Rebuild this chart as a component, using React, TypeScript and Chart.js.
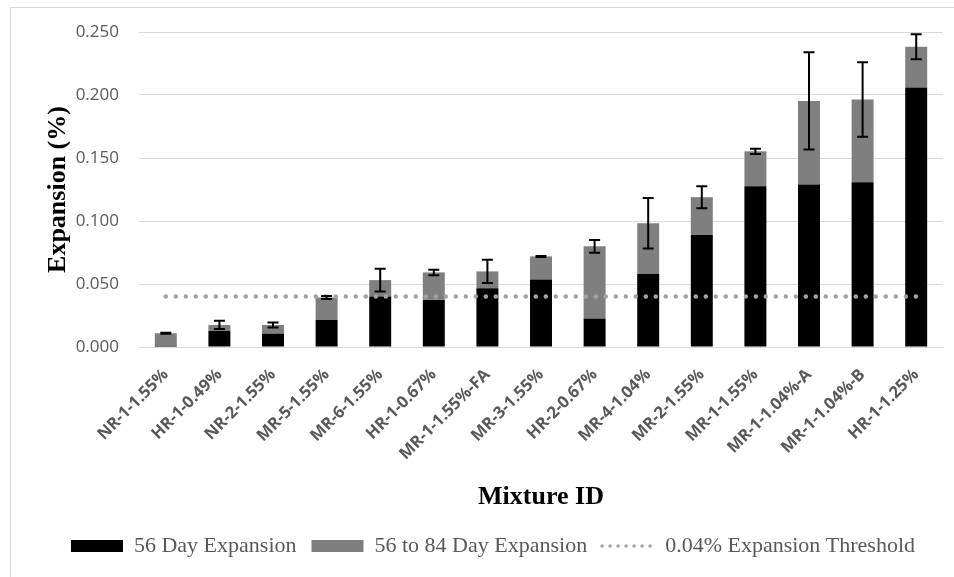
import { useEffect, useRef } from 'react';
import { Chart, registerables } from 'chart.js';

Chart.register(...registerables);

const categories = [
  'NR-1-1.55%', 'HR-1-0.49%', 'NR-2-1.55%', 'MR-5-1.55%', 'MR-6-1.55%',
  'HR-1-0.67%', 'MR-1-1.55%-FA', 'MR-3-1.55%', 'HR-2-0.67%', 'MR-4-1.04%',
  'MR-2-1.55%', 'MR-1-1.55%', 'MR-1-1.04%-A', 'MR-1-1.04%-B', 'HR-1-1.25%',
];

const day56 = [0.001, 0.0127, 0.0106, 0.0215, 0.04, 0.0374, 0.0467, 0.0536, 0.0225, 0.0579, 0.0889, 0.1276, 0.129, 0.1308, 0.206];
const day56to84 = [0.0099, 0.0048, 0.0069, 0.0178, 0.0131, 0.0218, 0.0133, 0.0183, 0.0574, 0.0403, 0.03, 0.0277, 0.0663, 0.0656, 0.0323];
const errorMargins = [0.0004, 0.0033, 0.002, 0.0012, 0.009, 0.0022, 0.0093, 0.0004, 0.005, 0.02, 0.0087, 0.0021, 0.0386, 0.0296, 0.01];
const threshold = [0.04, 0.04, 0.04, 0.04, 0.04, 0.04, 0.04, 0.04, 0.04, 0.04, 0.04, 0.04, 0.04, 0.04, 0.04];

const seriesLabels = ['56 Day Expansion', '56 to 84 Day Expansion', '0.04% Expansion Threshold'];

const errorBarPlugin = {
  id: 'errorBars',
  afterDatasetsDraw(chart: any) {
    const { ctx } = chart;
    const x = chart.scales.x;
    const y = chart.scales.y;
    ctx.save();
    ctx.strokeStyle = '#000000';
    ctx.lineWidth = 2;
    categories.forEach((_, i) => {
      const total = day56[i] + day56to84[i];
      const px = x.getPixelForValue(i);
      const yTop = y.getPixelForValue(total + errorMargins[i]);
      const yBot = y.getPixelForValue(total - errorMargins[i]);
      const half = 5.5;
      ctx.beginPath();
      ctx.moveTo(px, yTop);
      ctx.lineTo(px, yBot);
      ctx.moveTo(px - half, yTop);
      ctx.lineTo(px + half, yTop);
      ctx.moveTo(px - half, yBot);
      ctx.lineTo(px + half, yBot);
      ctx.stroke();
    });
    ctx.restore();
  },
};

export default function App() {
  const canvasRef = useRef<HTMLCanvasElement | null>(null);

  useEffect(() => {
    if (!canvasRef.current) return;
    const chart = new Chart(canvasRef.current, {
      type: 'bar',
      data: {
        labels: categories,
        datasets: [
          {
            label: seriesLabels[0],
            data: day56,
            backgroundColor: '#000000',
            stack: 'exp',
            order: 1,
            barPercentage: 0.41,
            categoryPercentage: 1,
          },
          {
            label: seriesLabels[1],
            data: day56to84,
            backgroundColor: '#7f7f7f',
            stack: 'exp',
            order: 1,
            barPercentage: 0.41,
            categoryPercentage: 1,
          },
          {
            type: 'line',
            label: seriesLabels[2],
            data: threshold,
            borderColor: '#a3a3a3',
            backgroundColor: 'rgba(0,0,0,0)',
            borderWidth: 4.5,
            borderDash: [0, 10],
            borderCapStyle: 'round',
            pointRadius: 0,
            fill: false,
            order: 0,
            stack: 'thr',
          } as any,
        ],
      },
      options: {
        animation: false,
        responsive: false,
        layout: { padding: { left: 43, right: 11, top: 32, bottom: 10 } },
        plugins: {
          tooltip: { enabled: false },
          legend: {
            position: 'bottom',
            labels: {
              usePointStyle: true,
              pointStyleWidth: 52,
              boxHeight: 12,
              padding: 15,
              color: '#595959',
              font: { family: "'Liberation Serif', 'Times New Roman', serif", size: 22 },
              generateLabels: () => [
                {
                  text: seriesLabels[0],
                  fillStyle: '#000000',
                  strokeStyle: '#000000',
                  lineWidth: 0,
                  pointStyle: 'rect',
                  hidden: false,
                  datasetIndex: 0,
                  fontColor: '#595959',
                },
                {
                  text: seriesLabels[1],
                  fillStyle: '#7f7f7f',
                  strokeStyle: '#7f7f7f',
                  lineWidth: 0,
                  pointStyle: 'rect',
                  hidden: false,
                  datasetIndex: 1,
                  fontColor: '#595959',
                },
                {
                  text: seriesLabels[2],
                  fillStyle: 'rgba(0,0,0,0)',
                  strokeStyle: '#a3a3a3',
                  lineWidth: 3.5,
                  lineDash: [0, 8],
                  lineCap: 'round',
                  pointStyle: 'line',
                  hidden: false,
                  datasetIndex: 2,
                  fontColor: '#595959',
                },
              ] as any,
            },
          },
        },
        scales: {
          x: {
            stacked: true,
            grid: { display: false },
            border: { display: true, color: '#d9d9d9' },
            ticks: {
              minRotation: 45,
              maxRotation: 45,
              autoSkip: false,
              padding: 10,
              color: '#595959',
              font: { family: "'Open Sans', sans-serif", size: 16.5, weight: 'bold' },
            },
            title: {
              display: true,
              text: 'Mixture ID',
              color: '#000000',
              font: { family: "'Liberation Serif', 'Times New Roman', serif", size: 26, weight: 'bold' },
              padding: { top: 0, bottom: 7 },
            },
            afterFit: (s: any) => {
              s.height = 173;
            },
          },
          y: {
            stacked: true,
            min: 0,
            max: 0.25,
            grid: { color: '#d9d9d9', drawTicks: false },
            border: { display: false },
            ticks: {
              stepSize: 0.05,
              padding: 20,
              color: '#595959',
              font: { family: "'Open Sans', sans-serif", size: 17 },
              callback: (v: any) => Number(v).toFixed(3),
            },
            title: {
              display: true,
              text: 'Expansion (%)',
              color: '#000000',
              font: { family: "'Liberation Serif', 'Times New Roman', serif", size: 26, weight: 'bold' },
              padding: { top: 0, bottom: 0 },
            },
            afterFit: (s: any) => {
              s.width = 96;
            },
          },
        },
      },
      plugins: [errorBarPlugin],
    });
    return () => chart.destroy();
  }, []);

  return (
    <div style={{ position: 'absolute', left: 0, top: 0, width: 954, height: 577, overflow: 'hidden' }}>
      <div
        style={{
          position: 'absolute',
          left: 10,
          top: 7,
          width: 944,
          height: 570,
          borderLeft: '1px solid #d9d9d9',
          borderTop: '1px solid #d9d9d9',
          boxSizing: 'border-box',
        }}
      />
      <canvas
        ref={canvasRef}
        width={954}
        height={577}
        style={{ position: 'absolute', left: 0, top: 0, width: 954, height: 577 }}
      />
    </div>
  );
}
